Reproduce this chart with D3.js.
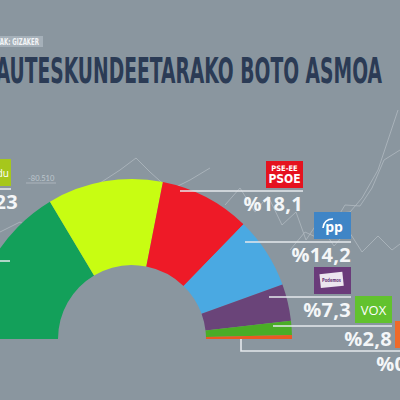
<!DOCTYPE html>
<html><head><meta charset="utf-8">
<script src="https://cdn.jsdelivr.net/npm/d3@7"></script>
<style>html,body{margin:0;padding:0;background:#8a969f;overflow:hidden}</style>
</head><body>
<svg id="c" width="400" height="400"></svg>
<script>
// ---- data ----
const parties = ["EAJ-PNV", "EH Bildu", "PSE-EE PSOE", "PP", "Elkarrekin Podemos", "VOX", "Cs"];
const shares  = [32.4, 23.0, 18.1, 14.2, 7.3, 2.8, 0.8];
const valueLabels = ["%32,4", "%23", "%18,1", "%14,2", "%7,3", "%2,8", "%0,8"];
const colors = ["#13a05a", "#c8fd12", "#ee1a27", "#4aa9e2", "#6a4479", "#4aad26", "#ea5a22"];
const boxColors = ["#13a05a", "#a6c71c", "#e5121f", "#3f85c6", "#6a3b7a", "#62c22e", "#ef6a2a"];
const title = "HAUTESKUNDEETARAKO BOTO ASMOA";
const source = "INKESTAK: GIZAKER";
const bgTick = "-80.510";

// ---- layout ----
const svg = d3.select("#c");
svg.append("rect").attr("width", 400).attr("height", 400).attr("fill", "#8a969f");

// background decorative trend lines
const deco = svg.append("g").attr("fill", "none").attr("stroke", "#dfe5ea").attr("stroke-width", 0.8).attr("opacity", 0.45);
const decoLines = [
  [[0,232],[20,222],[45,236],[70,200],[100,183],[120,170],[136,158],[150,172],[170,190],[190,180],[210,168]],
  [[0,250],[25,240],[55,262],[80,250]],
  [[225,205],[240,188],[255,212],[268,196],[282,225],[296,212],[306,240],[318,222],[334,246],[348,230],[362,252],[378,236],[392,250],[400,244]],
  [[290,250],[305,232],[318,238],[330,214],[350,212],[362,198],[378,170],[388,140],[398,110]],
  [[330,230],[345,205],[360,206],[372,188],[384,160],[400,150]]
];
decoLines.forEach(l => deco.append("path").attr("d", d3.line()(l)));
svg.append("line").attr("x1", 26).attr("x2", 56).attr("y1", 183).attr("y2", 183)
  .attr("stroke", "#dfe5ea").attr("stroke-width", 0.8).attr("opacity", 0.5);
svg.append("text").attr("x", 28).attr("y", 181).text(bgTick)
  .attr("font-family", "Lato, sans-serif").attr("font-size", 7.5).attr("fill", "#dfe5ea").attr("opacity", 0.6);

// source tag
svg.append("rect").attr("x", -30).attr("y", 36).attr("width", 73).attr("height", 11).attr("fill", "#a5b0b9");
svg.append("text").attr("x", -22).attr("y", 45).text(source)
  .attr("textLength", 61).attr("lengthAdjust", "spacingAndGlyphs")
  .attr("font-family", "'Liberation Sans Narrow', 'DejaVu Sans Condensed', sans-serif")
  .attr("font-weight", 700).attr("font-size", 9).attr("fill", "#f2f4f6");

// title
svg.append("text").attr("x", -20).attr("y", 83).text(title)
  .attr("textLength", 402).attr("lengthAdjust", "spacingAndGlyphs")
  .attr("font-family", "'Liberation Sans Narrow', 'DejaVu Sans Condensed', sans-serif")
  .attr("font-weight", 700).attr("font-size", 36).attr("fill", "#2b3b55");

// ---- half donut ----
const cx = 132, cy = 339, r0 = 74, r1 = 160;
const pie = d3.pie().sort(null).startAngle(-Math.PI / 2).endAngle(Math.PI / 2);
const arc = d3.arc().innerRadius(r0).outerRadius(r1);
const g = svg.append("g").attr("transform", `translate(${cx},${cy})`);
g.selectAll("path").data(pie(shares)).join("path")
  .attr("d", arc).attr("fill", (d, i) => colors[i]);

// ---- labels ----
const labelFont = "'Open Sans', 'Lato', sans-serif";
const lineCol = "#e4e8ec";
// per-label placement: box right edge, box top, line start x
const place = [
  null,
  {bx: 11,  by: 159, lx: -20},
  {bx: 303, by: 161, lx: 180},
  {bx: 351, by: 212, lx: 245},
  {bx: 351, by: 267, lx: 269},
  {bx: 392, by: 296, lx: 273},
  {bx: 432, by: 321, lx: 241}
];
const bw = 37, bh = 27;

// PNV leader line (its label is outside the frame)
svg.append("line").attr("x1", -40).attr("x2", 10).attr("y1", 261).attr("y2", 261)
  .attr("stroke", lineCol).attr("stroke-width", 1.6);

place.forEach((p, i) => {
  if (!p) return;
  const lg = svg.append("g");
  lg.append("rect").attr("x", p.bx - bw).attr("y", p.by).attr("width", bw).attr("height", bh)
    .attr("fill", boxColors[i]);
  const ly = p.by + bh + 3;
  if (i === 6) {
    lg.append("path").attr("d", d3.line()([[p.lx, cy], [p.lx, ly], [420, ly]]))
      .attr("fill", "none").attr("stroke", lineCol).attr("stroke-width", 1.6);
  } else {
    lg.append("line").attr("x1", p.lx).attr("x2", Math.min(p.bx, 400)).attr("y1", ly).attr("y2", ly)
      .attr("stroke", lineCol).attr("stroke-width", 1.6);
  }
  const tx = i === 1 ? 18 : (i === 6 ? 424 : p.bx);
  lg.append("text").attr("x", tx).attr("y", ly + 20).attr("text-anchor", "end")
    .text(valueLabels[i]).attr("font-family", labelFont).attr("font-weight", 700)
    .attr("font-size", 20).attr("letter-spacing", 0.3).attr("fill", "#f4f6f8");
});

// box logos
const bf = "'Liberation Sans Narrow', 'DejaVu Sans Condensed', sans-serif";
// EH Bildu
svg.append("text").attr("x", 9).attr("y", 177).attr("text-anchor", "end").text("EH Bildu")
  .attr("font-family", "'Open Sans', sans-serif").attr("font-size", 10).attr("fill", "#ffffff");
// PSE-EE PSOE
svg.append("text").attr("x", 284.5).attr("y", 171).attr("text-anchor", "middle").text("PSE-EE")
  .attr("font-family", bf).attr("font-weight", 700).attr("font-size", 7.5).attr("fill", "#fff");
svg.append("text").attr("x", 284.5).attr("y", 183).attr("text-anchor", "middle").text("PSOE")
  .attr("font-family", bf).attr("font-weight", 700).attr("font-size", 12).attr("fill", "#fff");
// PP
svg.append("path").attr("d", "M323,228 Q324,219 333,219").attr("fill", "none").attr("stroke", "#fff").attr("stroke-width", 1.6);
svg.append("text").attr("x", 334).attr("y", 232).attr("text-anchor", "middle").text("pp")
  .attr("font-family", "'Open Sans', sans-serif").attr("font-weight", 700).attr("font-size", 14).attr("fill", "#fff");
// Podemos
svg.append("rect").attr("x", 320).attr("y", 273).attr("width", 23).attr("height", 14)
  .attr("fill", "#ece6ef").attr("transform", "rotate(-6,331,279)");
svg.append("text").attr("x", 331.5).attr("y", 282).attr("text-anchor", "middle").text("Podemos")
  .attr("textLength", 19).attr("lengthAdjust", "spacingAndGlyphs")
  .attr("font-family", bf).attr("font-weight", 700).attr("font-size", 5.5).attr("fill", "#6a3b7a");
// VOX
svg.append("text").attr("x", 373.5).attr("y", 315).attr("text-anchor", "middle").text("VOX")
  .attr("font-family", "'Open Sans', sans-serif").attr("font-size", 13).attr("fill", "#fff");
</script>
</body></html>
